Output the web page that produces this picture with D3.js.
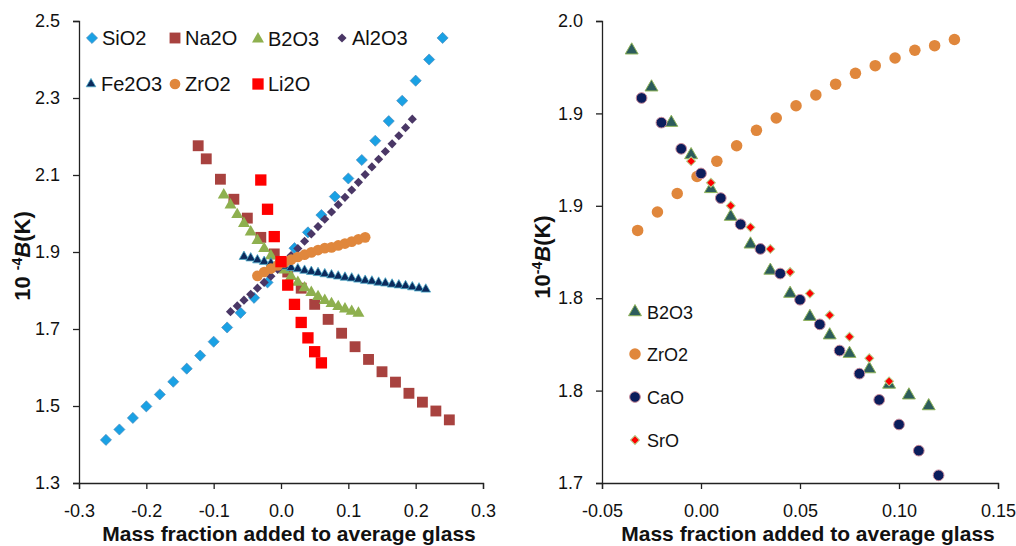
<!DOCTYPE html>
<html><head><meta charset="utf-8">
<script src="https://cdn.jsdelivr.net/npm/d3@7"></script>
<style>body{margin:0;background:#fff;overflow:hidden} text{font-family:"Liberation Sans",Arial,Helvetica,sans-serif}</style>
</head><body><svg id="c" width="1016" height="546"></svg>
<script>
// ---------- Left panel data ----------
const leftXTicks = [-0.3, -0.2, -0.1, 0.0, 0.1, 0.2, 0.3];
const leftXTickLabels = ["-0.3", "-0.2", "-0.1", "0.0", "0.1", "0.2", "0.3"];
const leftYTicks = [1.3, 1.5, 1.7, 1.9, 2.1, 2.3, 2.5];
const leftYTickLabels = ["1.3", "1.5", "1.7", "1.9", "2.1", "2.3", "2.5"];

const sio2X = [-0.26,-0.24,-0.22,-0.20,-0.18,-0.16,-0.14,-0.12,-0.10,-0.08,-0.06,-0.04,-0.02,0.00,0.02,0.04,0.06,0.08,0.10,0.12,0.14,0.16,0.18,0.20,0.22,0.24];
const sio2Y = [1.412,1.439,1.469,1.499,1.530,1.563,1.597,1.631,1.667,1.704,1.742,1.781,1.821,1.865,1.910,1.951,1.996,2.044,2.091,2.139,2.189,2.240,2.293,2.345,2.400,2.456];

const na2oX = [-0.123,-0.111,-0.09,-0.07,-0.05,-0.03,-0.01,0.01,0.03,0.05,0.07,0.09,0.11,0.13,0.15,0.17,0.19,0.21,0.23,0.25];
const na2oY = [2.176,2.142,2.089,2.037,1.988,1.938,1.895,1.848,1.806,1.764,1.725,1.689,1.654,1.621,1.589,1.562,1.533,1.510,1.487,1.464];

const b2o3LX = [-0.085,-0.075,-0.065,-0.055,-0.045,-0.035,-0.025,-0.015,-0.005,0.005,0.015,0.025,0.035,0.045,0.055,0.065,0.075,0.085,0.095,0.105,0.115];
const b2o3LY = [2.048,2.022,1.997,1.974,1.952,1.930,1.909,1.890,1.871,1.853,1.836,1.821,1.807,1.795,1.784,1.774,1.766,1.758,1.752,1.746,1.741];

const al2o3X = [-0.075,-0.065,-0.055,-0.045,-0.035,-0.025,-0.015,-0.005,0.005,0.015,0.025,0.035,0.045,0.055,0.065,0.075,0.085,0.095,0.105,0.115,0.125,0.135,0.145,0.155,0.165,0.175,0.185,0.195];
const al2o3Y = [1.745,1.760,1.775,1.790,1.806,1.821,1.837,1.855,1.873,1.891,1.909,1.928,1.947,1.966,1.985,2.004,2.023,2.042,2.061,2.081,2.101,2.121,2.141,2.161,2.181,2.202,2.223,2.245];

const fe2o3X = [-0.055,-0.045,-0.035,-0.025,-0.015,-0.005,0.005,0.015,0.025,0.035,0.045,0.055,0.065,0.075,0.085,0.095,0.105,0.115,0.125,0.135,0.145,0.155,0.165,0.175,0.185,0.195,0.205,0.215];
const fe2o3Y = [1.888,1.884,1.879,1.875,1.871,1.867,1.863,1.859,1.856,1.852,1.849,1.846,1.843,1.840,1.837,1.834,1.832,1.829,1.826,1.824,1.821,1.819,1.816,1.814,1.812,1.809,1.806,1.803];

const zro2LX = [-0.035,-0.025,-0.015,-0.005,0.005,0.015,0.025,0.035,0.045,0.055,0.065,0.075,0.085,0.095,0.105,0.115,0.125];
const zro2LY = [1.838,1.848,1.857,1.865,1.873,1.880,1.887,1.893,1.899,1.905,1.910,1.912,1.917,1.922,1.927,1.933,1.938];

const li2oX = [-0.03,-0.02,-0.01,0.00,0.01,0.02,0.03,0.04,0.05,0.06];
const li2oY = [2.087,2.011,1.940,1.875,1.814,1.764,1.717,1.677,1.641,1.612];

// ---------- Right panel data ----------
const rightXTicks = [-0.05, 0.00, 0.05, 0.10, 0.15];
const rightXTickLabels = ["-0.05", "0.00", "0.05", "0.10", "0.15"];
const rightYTicks = [1.70, 1.76, 1.82, 1.88, 1.94, 2.00];
const rightYTickLabels = ["1.7", "1.8", "1.8", "1.9", "1.9", "2.0"];

const b2o3RX = [-0.035,-0.025,-0.015,-0.005,0.005,0.015,0.025,0.035,0.045,0.055,0.065,0.075,0.085,0.095,0.105,0.115];
const b2o3RY = [1.981,1.957,1.934,1.913,1.891,1.873,1.855,1.838,1.823,1.808,1.796,1.784,1.774,1.764,1.757,1.750];

const zro2RX = [-0.032,-0.022,-0.012,-0.002,0.008,0.018,0.028,0.038,0.048,0.058,0.068,0.078,0.088,0.098,0.108,0.118,0.128];
const zro2RY = [1.864,1.876,1.888,1.899,1.909,1.919,1.929,1.937,1.945,1.952,1.959,1.966,1.971,1.976,1.981,1.984,1.988];

const caoX = [-0.03,-0.02,-0.01,0.00,0.01,0.02,0.03,0.04,0.05,0.06,0.07,0.08,0.09,0.10,0.11,0.12];
const caoY = [1.950,1.934,1.917,1.901,1.885,1.868,1.852,1.836,1.819,1.803,1.786,1.771,1.754,1.738,1.721,1.705];

const sroX = [-0.005,0.005,0.015,0.025,0.035,0.045,0.055,0.065,0.075,0.085,0.095];
const sroY = [1.909,1.895,1.880,1.866,1.852,1.837,1.823,1.809,1.795,1.781,1.766];

// ---------- Drawing ----------
const svg = d3.select("#c");
const zip = (xs, ys) => xs.map((x, i) => [x, ys[i]]);

function sym(type, size) { return d3.symbol().type(type).size(size)(); }

function drawSeries(g, xS, yS, data, st) {
  g.append("g").selectAll("path").data(data).join("path")
    .attr("d", sym(st.type, st.size))
    .attr("transform", d => `translate(${xS(d[0])},${yS(d[1])})` + (st.rot ? " rotate(45)" : ""))
    .attr("fill", st.fill)
    .attr("stroke", st.stroke || "none")
    .attr("stroke-width", st.sw || 0);
}

function drawAxes(xS, yS, xt, xl, yt, yl) {
  const gx = svg.append("g").attr("transform", `translate(0,${yS.range()[0]})`)
    .call(d3.axisBottom(xS).tickValues(xt).tickFormat((d, i) => xl[i]).tickSize(6).tickPadding(15).tickSizeOuter(6));
  const gy = svg.append("g").attr("transform", `translate(${xS.range()[0]},0)`)
    .call(d3.axisLeft(yS).tickValues(yt).tickFormat((d, i) => yl[i]).tickSize(6).tickPadding(13).tickSizeOuter(6));
  [gx, gy].forEach(g => {
    g.select(".domain").attr("stroke", "#222").attr("stroke-width", 1.3);
    g.selectAll(".tick line").attr("stroke", "#222").attr("stroke-width", 1.3);
    g.selectAll(".tick text").attr("font-size", 18).attr("fill", "#111")
      .attr("font-family", "'Liberation Sans',Arial,Helvetica,sans-serif");
  });
}

function yTitle(x, y, spaced) {
  const t = svg.append("text").attr("transform", `translate(${x},${y}) rotate(-90)`)
    .attr("text-anchor", "middle").attr("font-size", 22).attr("font-weight", "bold").attr("fill", "#111");
  t.append("tspan").text(spaced ? "10 " : "10");
  t.append("tspan").attr("font-size", 14).attr("dy", -8).text("-4");
  t.append("tspan").attr("dy", 8).attr("font-style", "italic").text("B");
  t.append("tspan").text("(K)");
}

function xTitle(x, y) {
  svg.append("text").attr("x", x).attr("y", y).attr("text-anchor", "middle")
    .attr("font-size", 21).attr("font-weight", "bold").attr("fill", "#111")
    .text("Mass fraction added to average glass");
}

// Styles
const S = {
  sio2: {type: d3.symbolSquare, size: 62, rot: true, fill: "#1aa1e4", stroke: "#4a86b8", sw: 0.6},
  na2o: {type: d3.symbolSquare, size: 118, fill: "#a8423f"},
  b2o3L: {type: d3.symbolTriangle, size: 62, fill: "#8eb04f"},
  al2o3: {type: d3.symbolSquare, size: 42, rot: true, fill: "#4a3766"},
  fe2o3: {type: d3.symbolTriangle, size: 40, fill: "#0c2a5c", stroke: "#4aa9c9", sw: 0.8},
  zro2L: {type: d3.symbolCircle, size: 90, fill: "#e0873c"},
  li2o: {type: d3.symbolSquare, size: 128, fill: "#ff0000"},
  b2o3R: {type: d3.symbolTriangle, size: 72, fill: "#2c5c5c", stroke: "#8fb35a", sw: 1},
  zro2R: {type: d3.symbolCircle, size: 104, fill: "#e0873c"},
  cao: {type: d3.symbolCircle, size: 90, fill: "#0b1d5c", stroke: "#c88a9a", sw: 1},
  sro: {type: d3.symbolSquare, size: 40, rot: true, fill: "#ff0000", stroke: "#b6cf8a", sw: 1}
};

// Left panel
const xL = d3.scaleLinear().domain([-0.3, 0.3]).range([79, 483]);
const yL = d3.scaleLinear().domain([1.3, 2.5]).range([483, 21]);
drawAxes(xL, yL, leftXTicks, leftXTickLabels, leftYTicks, leftYTickLabels);
const gL = svg.append("g");
drawSeries(gL, xL, yL, zip(sio2X, sio2Y), S.sio2);
drawSeries(gL, xL, yL, zip(na2oX, na2oY), S.na2o);
drawSeries(gL, xL, yL, zip(b2o3LX, b2o3LY), S.b2o3L);
drawSeries(gL, xL, yL, zip(al2o3X, al2o3Y), S.al2o3);
drawSeries(gL, xL, yL, zip(fe2o3X, fe2o3Y), S.fe2o3);
drawSeries(gL, xL, yL, zip(zro2LX, zro2LY), S.zro2L);
drawSeries(gL, xL, yL, zip(li2oX, li2oY), S.li2o);
yTitle(30, 256, true);
xTitle(289, 541);

// Left legend
const legL = [
  ["SiO2", S.sio2, 92, 38], ["Na2O", S.na2o, 175, 38], ["B2O3", S.b2o3L, 258, 39], ["Al2O3", S.al2o3, 342, 38],
  ["Fe2O3", S.fe2o3, 91, 84], ["ZrO2", S.zro2L, 175, 84], ["Li2O", S.li2o, 258, 84]
];
legL.forEach(([name, st, x, y]) => {
  svg.append("path").attr("d", sym(st.type, st.size))
    .attr("transform", `translate(${x},${y})` + (st.rot ? " rotate(45)" : ""))
    .attr("fill", st.fill).attr("stroke", st.stroke || "none").attr("stroke-width", st.sw || 0);
  svg.append("text").attr("x", x + 10).attr("y", y + 7).attr("font-size", 20).attr("fill", "#111").text(name);
});

// Right panel
const xR = d3.scaleLinear().domain([-0.05, 0.15]).range([602, 998]);
const yR = d3.scaleLinear().domain([1.7, 2.0]).range([483, 21]);
drawAxes(xR, yR, rightXTicks, rightXTickLabels, rightYTicks, rightYTickLabels);
const gR = svg.append("g");
drawSeries(gR, xR, yR, zip(b2o3RX, b2o3RY), S.b2o3R);
drawSeries(gR, xR, yR, zip(zro2RX, zro2RY), S.zro2R);
drawSeries(gR, xR, yR, zip(caoX, caoY), S.cao);
drawSeries(gR, xR, yR, zip(sroX, sroY), S.sro);
yTitle(550, 257, false);
xTitle(808, 541);

const legR = [["B2O3", S.b2o3R, 312], ["ZrO2", S.zro2R, 354], ["CaO", S.cao, 397], ["SrO", S.sro, 440]];
legR.forEach(([name, st, y]) => {
  svg.append("path").attr("d", sym(st.type, st.size))
    .attr("transform", `translate(635,${y})` + (st.rot ? " rotate(45)" : ""))
    .attr("fill", st.fill).attr("stroke", st.stroke || "none").attr("stroke-width", st.sw || 0);
  svg.append("text").attr("x", 647).attr("y", y + 6.5).attr("font-size", 18).attr("fill", "#111").text(name);
});
</script></body></html>
